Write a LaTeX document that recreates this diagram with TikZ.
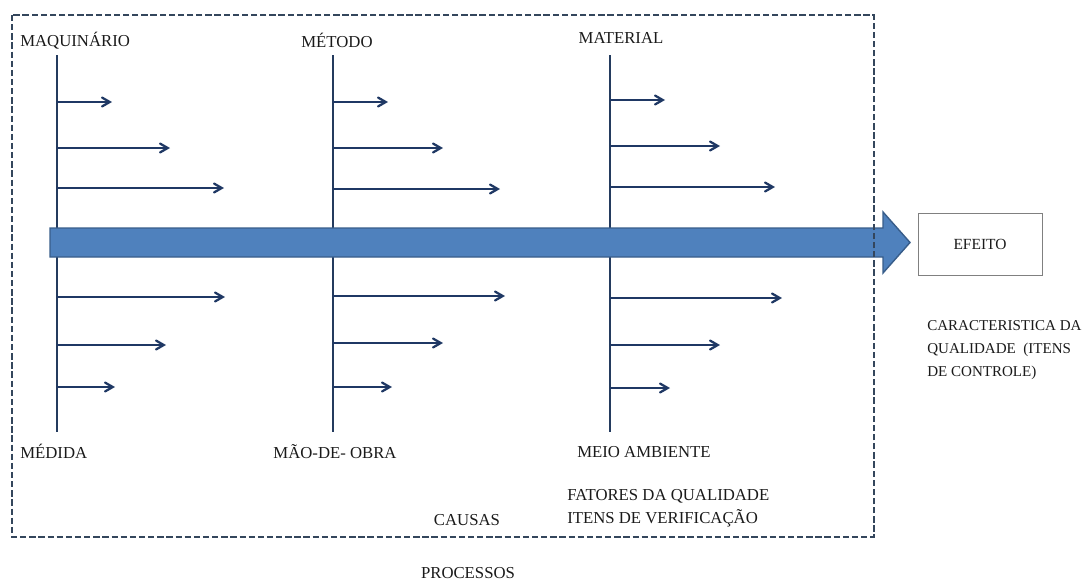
\documentclass[tikz,border=0pt]{standalone}
\usepackage{fontspec}
\setmainfont{Liberation Serif}
\usepackage{tikz}
\usetikzlibrary{arrows}
\usepackage{xcolor}
\definecolor{spinecol}{HTML}{243B5E}
\definecolor{branchcol}{HTML}{1F3864}
\definecolor{bigfill}{HTML}{4F81BD}
\definecolor{bigdraw}{HTML}{385D8A}
\definecolor{framecol}{HTML}{34465C}
\definecolor{txtcol}{HTML}{1A1A1A}

\begin{document}
\begin{tikzpicture}[x = 0.025cm, y = -0.025cm, >= angle 60,
  lbl/.style = {inner sep = 0pt, text = txtcol, font = \fontsize{11.9}{16}\selectfont},
  sidelbl/.style = {inner sep = 0pt, text = txtcol, font = \fontsize{10.7}{16.4}\selectfont},
  spine/.style = {draw = spinecol, line width = 1.4pt},
  branch/.style = {->, draw = branchcol, line width = 1.6pt},
  bigarrow/.style = {fill = bigfill, draw = bigdraw, line width = 1pt},
  frame/.style = {draw = framecol, line width = 2pt, dash pattern = on 4.5pt off 2pt},
  effbox/.style = {draw = gray, line width = 0.6pt, minimum width = 3.1cm, minimum height = 1.55cm, text = txtcol, font = \fontsize{11}{13}\selectfont}]
\useasboundingbox (0, 0) rectangle (1086, 580) ;

\node(maquinario) at (20, 41) [lbl, anchor = west] {MAQUINÁRIO} ; 
\node(metodo) at (337, 40) [lbl] {MÉTODO} ; 
\node(material) at (621, 38) [lbl] {MATERIAL} ; 
\node(medida) at (20, 451) [lbl, anchor = west] {MÉDIDA} ; 
\node(maodeobra) at (335, 452) [lbl] {MÃO-DE- OBRA} ; 
\node(meioambiente) at (644, 452) [lbl] {MEIO AMBIENTE} ; 

\coordinate(maqtop) at (57, 55) ; 
\coordinate(medbot) at (57, 432) ; 
\coordinate(mettop) at (333, 55) ; 
\coordinate(maobot) at (333, 432) ; 
\coordinate(mattop) at (610, 55) ; 
\coordinate(meiobot) at (610, 432) ; 
\draw[spine] (maqtop) -- (medbot) ; 
\draw[spine] (mettop) -- (maobot) ; 
\draw[spine] (mattop) -- (meiobot) ; 

\foreach \sx/\ex/\yy [count = \i] in {57/112/102, 57/170/148, 57/224/188,
  333/388/102, 333/443/148, 333/500/189, 610/665/100, 610/720/146, 610/775/187,
  57/225/297, 57/166/345, 57/115/387, 333/505/296, 333/443/343, 333/392/387,
  610/782/298, 610/720/345, 610/670/388}
{
  \coordinate(cause\i) at (\sx, \yy) ; 
  \coordinate(tip\i) at (\ex, \yy) ; 
  \draw[branch] (cause\i) -- (tip\i) ; 
}

\draw[bigarrow] (50, 228) -- (883, 228) -- (883, 212) -- (910, 242.5) -- (883, 273) -- (883, 257) -- (50, 257) -- cycle ; 

\draw[frame] (12, 15) rectangle (874, 537) ; 

\node(efeito) at (980, 244) [effbox] {EFEITO} ; 
\node(caracteristica) at (927, 350) [sidelbl, anchor = west, align = left] {CARACTERISTICA DA\\QUALIDADE \ (ITENS\\DE CONTROLE)} ; 

\node(fatores) at (567, 508) [lbl, anchor = west, align = left] {FATORES DA QUALIDADE\\ITENS DE VERIFICAÇÃO} ; 
\node(causas) at (467, 520) [lbl] {CAUSAS} ; 
\node(processos) at (468, 573) [lbl] {PROCESSOS} ; 
\end{tikzpicture}
\end{document}
